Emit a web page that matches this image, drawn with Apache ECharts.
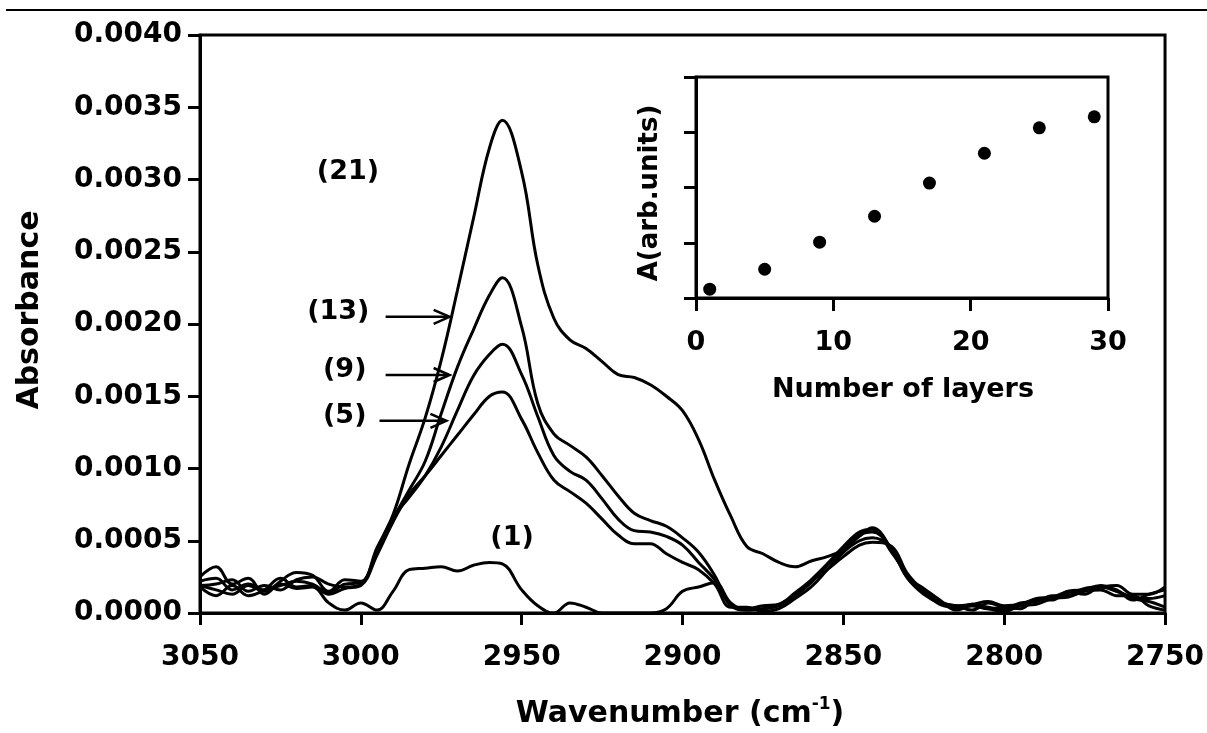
<!DOCTYPE html>
<html>
<head>
<meta charset="utf-8">
<script src="https://cdn.jsdelivr.net/npm/echarts@6/dist/echarts.min.js"></script>
<style>
html,body{margin:0;padding:0;background:#fff;}
#chart{width:1207px;height:733px;}
</style>
</head>
<body>
<div id="chart"></div>
<script>
// ---- data ----
const wavenumbers = [3050,3045,3040,3035,3030,3025,3020,3015,3010,3005,3000,2995,2990,2985,2980,2975,2970,2965,2960,2956,2950,2945,2940,2935,2930,2925,2920,2915,2910,2905,2900,2895,2890,2885,2880,2875,2870,2865,2860,2855,2850,2845,2841,2835,2830,2825,2820,2815,2810,2805,2800,2795,2790,2785,2780,2775,2770,2765,2760,2755,2750];

const layers21 = [0.00025,0.00032,0.00020,0.00024,0.00013,0.00022,0.00028,0.00026,0.00015,0.00023,0.00022,
  0.00045,0.00068,0.00103,0.00135,0.00175,0.00223,0.00273,0.00322,0.00341,
  0.00305,0.00241,0.00204,0.00189,0.00183,0.00174,0.00165,0.00163,0.00158,0.00150,0.00140,0.00120,
  0.00092,0.00067,0.00046,0.00041,0.00035,0.00032,0.00036,0.00039,0.00044,0.00053,0.00059,
  0.00044,0.00024,0.00015,0.00008,0.00005,0.00006,0.00008,0.00005,0.00006,0.00010,0.00011,0.00015,0.00016,0.00018,0.00019,0.00013,0.00013,0.00018];

const layers13 = [0.00022,0.00024,0.00016,0.00020,0.00016,0.00019,0.00022,0.00020,0.00014,0.00020,0.00021,
  0.00042,0.00065,0.00085,0.00105,0.00138,0.00170,0.00196,0.00220,0.00232,
  0.00198,0.00145,0.00124,0.00116,0.00108,0.00095,0.00081,0.00069,0.00064,0.00060,0.00052,0.00042,
  0.00026,0.00006,0.00003,0.00005,0.00006,0.00014,0.00023,0.00034,0.00046,0.00056,0.00058,
  0.00042,0.00026,0.00014,0.00008,0.00003,0.00006,0.00004,0.00002,0.00007,0.00008,0.00012,0.00012,0.00016,0.00019,0.00015,0.00010,0.00008,0.00004];

const layers9 = [0.00019,0.00020,0.00023,0.00015,0.00019,0.00016,0.00023,0.00025,0.00020,0.00018,0.00020,
  0.00043,0.00066,0.00080,0.00095,0.00115,0.00140,0.00164,0.00179,0.00186,
  0.00165,0.00136,0.00109,0.00098,0.00092,0.00079,0.00065,0.00057,0.00056,0.00053,0.00047,0.00035,
  0.00023,0.00005,0.00002,0.00003,0.00005,0.00012,0.00021,0.00033,0.00044,0.00054,0.00056,
  0.00044,0.00024,0.00013,0.00007,0.00005,0.00002,0.00007,0.00004,0.00003,0.00009,0.00009,0.00015,0.00013,0.00018,0.00016,0.00009,0.00013,0.00016];

const layers5 = [0.00018,0.00012,0.00019,0.00012,0.00016,0.00024,0.00018,0.00019,0.00013,0.00017,0.00019,
  0.00040,0.00063,0.00082,0.00095,0.00109,0.00123,0.00137,0.00150,0.00153,
  0.00134,0.00111,0.00092,0.00084,0.00076,0.00065,0.00054,0.00048,0.00048,0.00041,0.00035,0.00030,
  0.00020,0.00004,0.00004,0.00001,0.00003,0.00010,0.00018,0.00030,0.00042,0.00050,0.00052,
  0.00045,0.00025,0.00017,0.00009,0.00002,0.00005,0.00003,0.00001,0.00005,0.00006,0.00010,0.00011,0.00015,0.00016,0.00012,0.00012,0.00005,0.00002];

const layers1 = [0.00019,0.00016,0.00013,0.00019,0.00015,0.00020,0.00017,0.00018,0.00007,0.00002,0.00007,
  0.00002,0.00015,0.00030,0.00031,0.00032,0.00029,0.00033,0.00035,0.00034,
  0.00016,0.00005,0.00000,0.00007,0.00004,0.00000,0.00000,0.00000,0.00000,0.00003,0.00015,0.00018,
  0.00021,0.00007,0.00002,0.00003,0.00006,0.00013,0.00022,0.00030,0.00039,0.00047,0.00049,
  0.00046,0.00027,0.00015,0.00006,0.00004,0.00005,0.00003,0.00004,0.00006,0.00009,0.00011,0.00013,0.00017,0.00018,0.00015,0.00011,0.00010,0.00012];

const insetLayers = [1,5,9,13,17,21,25,29];
const insetArea = [0.16,0.52,1.01,1.48,2.08,2.62,3.08,3.28];

const curveLabels = ['(21)','(13)','(9)','(5)','(1)'];
const yTickLabels = ['0.0000','0.0005','0.0010','0.0015','0.0020','0.0025','0.0030','0.0035','0.0040'];
const xTickLabels = ['3050','3000','2950','2900','2850','2800','2750'];
const insetXTickLabels = ['0','10','20','30'];

// ---- chart ----
const FONT = 'DejaVu Sans';
const chart = echarts.init(document.getElementById('chart'), null, {renderer:'canvas'});
const axisLine = {show:true, lineStyle:{color:'#000', width:3}};
const axisTick = {show:true, inside:false, length:12, lineStyle:{color:'#000', width:3}};

function curve(name, arr){
  return {
    name, type:'line', xAxisIndex:0, yAxisIndex:0,
    data: wavenumbers.map((w,i)=>[w, arr[i]]),
    showSymbol:false, smooth:0.4, clip:true,
    lineStyle:{color:'#000', width:3}
  };
}

chart.setOption({
  animation:false,
  backgroundColor:'#fff',
  grid:[
    {left:200, right:40, top:35, bottom:120, show:true, borderColor:'#000', borderWidth:3, backgroundColor:'transparent'},
    {left:696, right:99, top:77, bottom:435, show:true, borderColor:'#000', borderWidth:3, backgroundColor:'transparent'}
  ],
  xAxis:[
    {gridIndex:0, type:'value', inverse:true, min:2750, max:3050, interval:50,
     axisLine, axisTick, splitLine:{show:false},
     axisLabel:{margin:31, fontFamily:FONT, fontWeight:'bold', fontSize:28, color:'#000',
       formatter:v=>{const s=String(Math.round(v)); return xTickLabels.includes(s)?s:'';}}},
    {gridIndex:1, type:'value', min:0, max:30, interval:10,
     axisLine, axisTick:{show:true, inside:false, length:13, lineStyle:{color:'#000', width:3}}, splitLine:{show:false},
     axisLabel:{margin:31, fontFamily:FONT, fontWeight:'bold', fontSize:27, color:'#000',
       formatter:v=>{const s=String(Math.round(v)); return insetXTickLabels.includes(s)?s:'';}}}
  ],
  yAxis:[
    {gridIndex:0, type:'value', min:0, max:0.004, interval:0.0005,
     axisLine, axisTick, splitLine:{show:false},
     axisLabel:{margin:18, fontFamily:FONT, fontWeight:'bold', fontSize:28, color:'#000',
       formatter:v=>yTickLabels[Math.round(v/0.0005)]}},
    {gridIndex:1, type:'value', min:0, max:4, interval:1,
     axisLine, axisTick, splitLine:{show:false}, axisLabel:{show:false}}
  ],
  series:[
    curve('21 layers', layers21),
    curve('13 layers', layers13),
    curve('9 layers', layers9),
    curve('5 layers', layers5),
    curve('1 layer', layers1),
    {name:'inset', type:'scatter', xAxisIndex:1, yAxisIndex:1,
     data: insetLayers.map((n,i)=>[n, insetArea[i]]),
     symbol:'circle', symbolSize:13, itemStyle:{color:'#000', opacity:1}}
  ]
});

// annotations in data coordinates (wavenumber, absorbance)
const labelPos = [[3004,0.00305],[3007,0.00208],[3005,0.00168],[3005,0.00136],[2953,0.00052]];
const arrows = [[[2992.3,0.00205],[2972.4,0.00205]],[[2992.3,0.001647],[2972.4,0.001647]],[[2994.2,0.00133],[2973.4,0.00133]]];
const toPx = p => chart.convertToPixel({gridIndex:0}, p);

const graphics = [];
graphics.push({type:'line', shape:{x1:6,y1:10,x2:1207,y2:10}, style:{stroke:'#000', lineWidth:2}});
curveLabels.forEach((t,i)=>{
  const p = toPx(labelPos[i]);
  graphics.push({type:'text', x:p[0], y:p[1], style:{text:t, fontFamily:FONT, fontWeight:'bold', fontSize:27, fill:'#000', textAlign:'center', textVerticalAlign:'middle'}});
});
arrows.forEach(a=>{
  const p1 = toPx(a[0]), p2 = toPx(a[1]);
  graphics.push({type:'line', shape:{x1:p1[0],y1:p1[1],x2:p2[0]-2,y2:p2[1]}, style:{stroke:'#000', lineWidth:2.5}});
  graphics.push({type:'polyline', shape:{points:[[p2[0]-16,p2[1]-7],[p2[0],p2[1]],[p2[0]-16,p2[1]+7]]}, style:{stroke:'#000', lineWidth:2.5, fill:null}});
});
// axis titles
graphics.push({type:'text', x:30, y:310, rotation:Math.PI/2, style:{text:'Absorbance', fontFamily:FONT, fontWeight:'bold', fontSize:30, fill:'#000', textAlign:'center', textVerticalAlign:'middle'}});
graphics.push({type:'text', x:680, y:714, style:{
  text:'{a|Wavenumber (cm}{s|-1}{a|)}', textAlign:'center', textVerticalAlign:'middle',
  rich:{a:{fontFamily:FONT, fontWeight:'bold', fontSize:30, fill:'#000', lineHeight:36},
        s:{fontFamily:FONT, fontWeight:'bold', fontSize:17, fill:'#000', lineHeight:18, verticalAlign:'top'}}}});
graphics.push({type:'text', x:650, y:193, rotation:Math.PI/2, style:{text:'A(arb.units)', fontFamily:FONT, fontWeight:'bold', fontSize:26, fill:'#000', textAlign:'center', textVerticalAlign:'middle'}});
graphics.push({type:'text', x:903, y:390, style:{text:'Number of layers', fontFamily:FONT, fontWeight:'bold', fontSize:27, fill:'#000', textAlign:'center', textVerticalAlign:'middle'}});

chart.setOption({graphic:graphics});
</script>
</body>
</html>
